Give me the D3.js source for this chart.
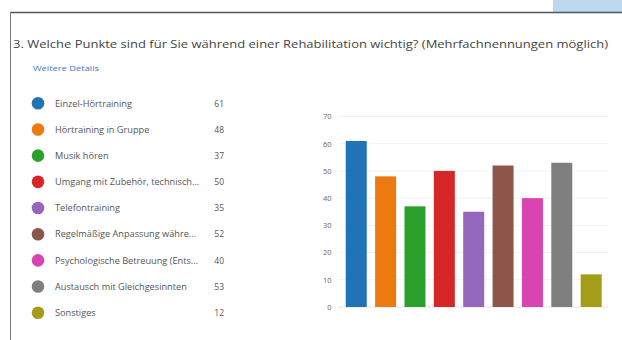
<!DOCTYPE html>
<html><head><meta charset="utf-8">
<script src="https://cdn.jsdelivr.net/npm/d3@7"></script>
<style>body{margin:0;background:#fff;overflow:hidden}svg{display:block}</style>
</head><body>
<svg id="c" width="622" height="340"></svg>
<script>
const categories = ["Einzel-Hörtraining","Hörtraining in Gruppe","Musik hören","Umgang mit Zubehör, technisch...","Telefontraining","Regelmäßige Anpassung währe...","Psychologische Betreuung (Ents...","Austausch mit Gleichgesinnten","Sonstiges"];
const values = [61,48,37,50,35,52,40,53,12];
const colors = ["#2073b6","#ec7a10","#2ca02c","#d62728","#9467bd","#8c564b","#d943b2","#7f7f7f","#a59c1a"];
const yTicks = [0,10,20,30,40,50,60,70];
const title = "3. Welche Punkte sind für Sie während einer Rehabilitation wichtig? (Mehrfachnennungen möglich)";
const linkText = "Weitere Details";

const svg = d3.select("#c");
const font = "'Open Sans', 'Noto Sans', sans-serif";

// decorations
svg.append("rect").attr("x",553).attr("y",0).attr("width",69).attr("height",12).attr("fill","#bcd9f0");
svg.append("line").attr("x1",10).attr("x2",622).attr("y1",12.5).attr("y2",12.5).attr("stroke","#555").attr("stroke-width",1.5);
svg.append("line").attr("x1",10.5).attr("x2",10.5).attr("y1",12).attr("y2",340).attr("stroke","#777").attr("stroke-width",1);

svg.append("text").attr("x",13).attr("y",47.5).attr("font-family",font).attr("font-size",10.2)
  .attr("fill","#444").attr("textLength",595).attr("lengthAdjust","spacingAndGlyphs").text(title);
svg.append("text").attr("x",33).attr("y",71).attr("font-family",font).attr("font-size",7.5)
  .attr("fill","#3a7cc0").attr("textLength",66).attr("lengthAdjust","spacingAndGlyphs").text(linkText);

// legend
const ly = d3.scalePoint().domain(categories).range([103.3,312.7]);
const leg = svg.append("g").selectAll("g").data(categories).join("g")
  .attr("transform", d => `translate(0,${ly(d)})`);
leg.append("circle").attr("cx",38).attr("cy",0).attr("r",6.3).attr("fill",(d,i)=>colors[i]);
leg.append("text").attr("x",55).attr("y",3.2).attr("font-family",font).attr("font-size",9.2)
  .attr("fill","#555").text(d=>d);
leg.append("text").attr("x",224).attr("y",3.2).attr("text-anchor","end").attr("font-family",font)
  .attr("font-size",8.5).attr("fill","#555").text((d,i)=>values[i]);

// chart
const x = d3.scaleBand().domain(categories).range([338.4,609]).paddingInner(0.285).paddingOuter(0.25);
const y = d3.scaleLinear().domain([0,70]).range([307,116.5]);

const g = svg.append("g");
g.selectAll("line.grid").data(yTicks).join("line").attr("class","grid")
  .attr("x1",338).attr("x2",608).attr("y1",d=>y(d)).attr("y2",d=>y(d))
  .attr("stroke",d=>d===0?"#e4e4e4":"#f2f2f2").attr("stroke-width",1);

const yAxis = d3.axisLeft(y).tickValues(yTicks).tickSize(0).tickPadding(0);
const ax = g.append("g").attr("transform","translate(331.5,0)").call(yAxis);
ax.select(".domain").remove();
ax.selectAll("text").attr("font-family",font).attr("font-size",7.5).attr("fill","#666").attr("dy","0.32em");

g.selectAll("rect.bar").data(categories).join("rect").attr("class","bar")
  .attr("x",d=>x(d)).attr("width",x.bandwidth())
  .attr("y",(d,i)=>y(values[i])).attr("height",(d,i)=>y(0)-y(values[i]))
  .attr("fill",(d,i)=>colors[i]);
</script>
</body></html>
